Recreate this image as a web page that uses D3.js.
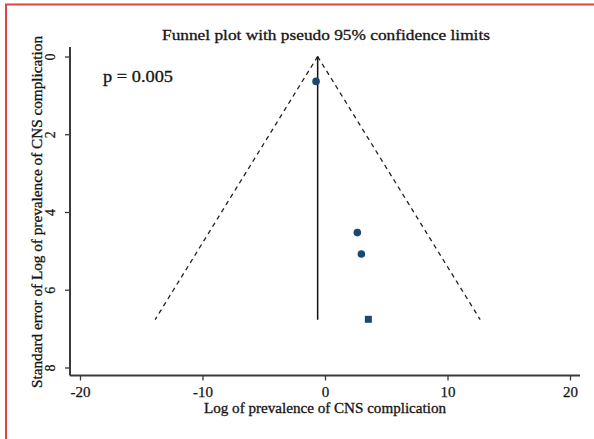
<!DOCTYPE html>
<html><head><meta charset="utf-8">
<script src="https://cdn.jsdelivr.net/npm/d3@7"></script>
<style>body{margin:0;background:#fff}svg{display:block}</style>
</head><body><svg id="c" width="594" height="439"></svg>
<script>
const effects = [-0.73, 2.64, 2.97, 3.54];
const stdErr = [0.64, 4.53, 5.08, 6.76];
const markerShapes = ["circle", "circle", "circle", "square"];
const pooled = -0.6;
const seMax = 6.77;
const xTicks = [-20, -10, 0, 10, 20];
const yTicks = [0, 2, 4, 6, 8];
const title = "Funnel plot with pseudo 95% confidence limits";
const xLabel = "Log of prevalence of CNS complication";
const yLabel = "Standard error of Log of prevalence of CNS complication";
const pText = "p = 0.005";

const svg = d3.select("#c");
const font = "'Liberation Serif', serif";
const txtCol = "#151515";
// red frame
svg.append("rect").attr("x",6).attr("y",4.5).attr("width",600).attr("height",450)
  .attr("fill","none").attr("stroke","#e04343").attr("stroke-width",2);

const x = d3.scaleLinear().domain([-20,20]).range([80,570]);
const y = d3.scaleLinear().domain([0,8]).range([56.5,367.5]);
const axisY = 375.5, axisX = 70;
const axCol = "#3a3a3a";

// axes
const gx = svg.append("g").attr("transform",`translate(0,${axisY})`)
  .call(d3.axisBottom(x).tickValues(xTicks).tickSize(5).tickPadding(6).tickFormat(d=>d<0?"-"+Math.abs(d):d));
gx.select(".domain").remove();
gx.selectAll("line").attr("stroke",axCol).attr("stroke-width",1.3);
gx.selectAll("text").attr("font-family",font).attr("font-size",15).attr("fill",txtCol)
  .attr("stroke",txtCol).attr("stroke-width",0.25);
svg.append("line").attr("x1",axisX).attr("x2",580).attr("y1",axisY).attr("y2",axisY).attr("stroke",axCol).attr("stroke-width",2);

const gy = svg.append("g").attr("transform",`translate(${axisX},0)`)
  .call(d3.axisLeft(y).tickValues(yTicks).tickSize(5).tickFormat(d=>d));
gy.select(".domain").remove();
gy.selectAll("line").attr("stroke",axCol).attr("stroke-width",1.3);
gy.selectAll("text").attr("font-family",font).attr("font-size",14).attr("fill",txtCol)
  .attr("stroke",txtCol).attr("stroke-width",0.25)
  .attr("text-anchor","middle").attr("x",0).attr("dy",null)
  .attr("transform","translate(-18.5,0) rotate(-90)").attr("dominant-baseline","middle");
svg.append("line").attr("x1",axisX).attr("x2",axisX).attr("y1",47).attr("y2",axisY).attr("stroke",axCol).attr("stroke-width",2);

// funnel lines
const funnelL = [[pooled,0],[pooled-1.96*seMax,seMax]];
const funnelR = [[pooled,0],[pooled+1.96*seMax,seMax]];
const line = d3.line().x(d=>x(d[0])).y(d=>y(d[1]));
[funnelL,funnelR].forEach(p=>svg.append("path").attr("d",line(p)).attr("fill","none")
  .attr("stroke","#222").attr("stroke-width",1.3).attr("stroke-dasharray","4.5,4"));
svg.append("path").attr("d",line([[pooled,0],[pooled,seMax]])).attr("stroke","#111").attr("stroke-width",1.5);

// points
const col = "#1b4870";
effects.forEach((e,i)=>{
  if(markerShapes[i]==="square"){
    svg.append("rect").attr("x",x(e)-3.5).attr("y",y(stdErr[i])-3.5).attr("width",7).attr("height",7).attr("fill",col);
  } else {
    svg.append("circle").attr("cx",x(e)).attr("cy",y(stdErr[i])).attr("r",3.8).attr("fill",col);
  }
});

// texts
const T = (sel)=>sel.attr("font-family",font).attr("fill",txtCol).attr("stroke",txtCol).attr("stroke-width",0.3)
  .attr("lengthAdjust","spacingAndGlyphs");
T(svg.append("text").attr("x",326).attr("y",40).attr("text-anchor","middle")
  .attr("font-size",14.5).attr("textLength",328)).text(title);
T(svg.append("text").attr("x",325).attr("y",413).attr("text-anchor","middle")
  .attr("font-size",14).attr("textLength",242)).text(xLabel);
T(svg.append("text").attr("transform","translate(42,212) rotate(-90)").attr("text-anchor","middle")
  .attr("font-size",14).attr("textLength",352)).text(yLabel);
T(svg.append("text").attr("x",103).attr("y",82)
  .attr("font-size",17).attr("textLength",70)).text(pText);
</script></body></html>
